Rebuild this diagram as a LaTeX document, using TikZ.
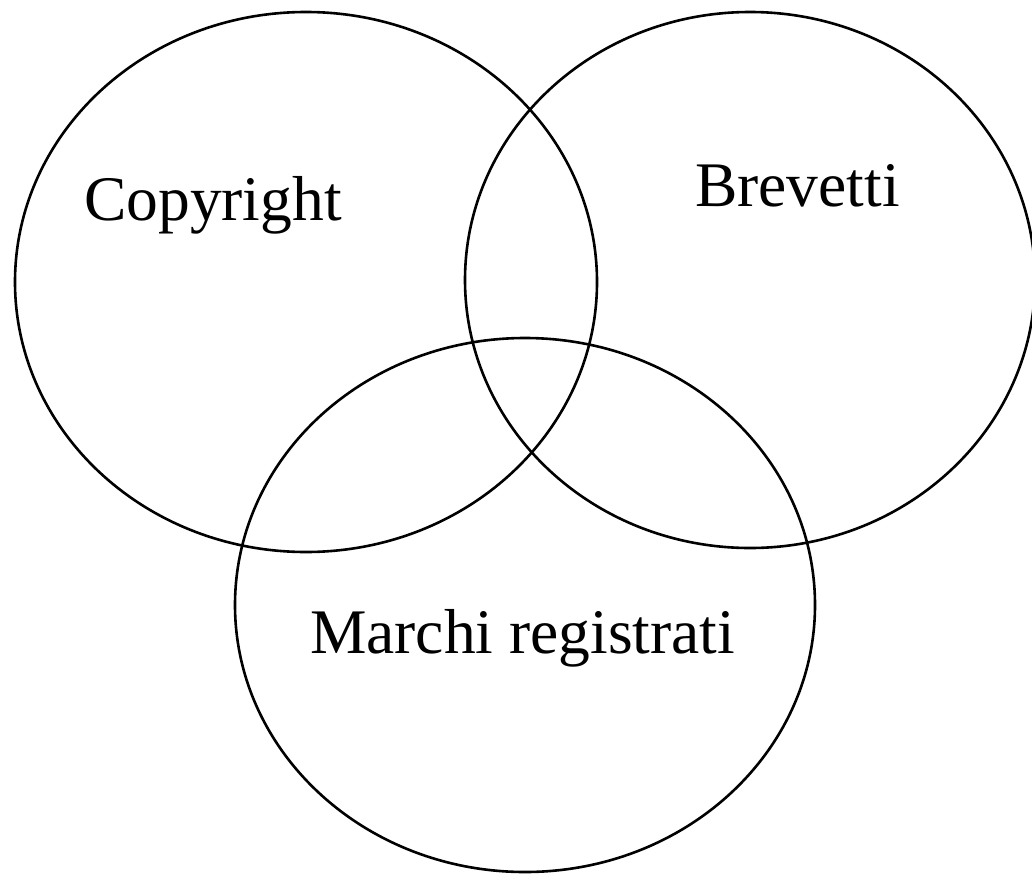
\documentclass[tikz,border=0pt]{standalone}
\usepackage{fontspec}
\setmainfont{Liberation Serif}
\begin{document}
\begin{tikzpicture}[x=1pt,y=-1pt,
  setring/.style={draw=black,line width=2.6pt},
  setlabel/.style={anchor=base west,inner sep=0pt,font=\fontsize{63.5}{76}\selectfont}]
\useasboundingbox (0,0) rectangle (1032,878);
\draw[setring] (306,282) ellipse [x radius=291, y radius=270];
\draw[setring] (750,280) ellipse [x radius=285, y radius=268];
\draw[setring] (525,605) ellipse [x radius=290, y radius=267];
\node[setlabel] (copy) at (84,220) {Copyright};
\node[setlabel] (brev) at (695,206) {Brevetti};
\node[setlabel] (marc) at (310,653) {Marchi registrati};
\end{tikzpicture}
\end{document}
